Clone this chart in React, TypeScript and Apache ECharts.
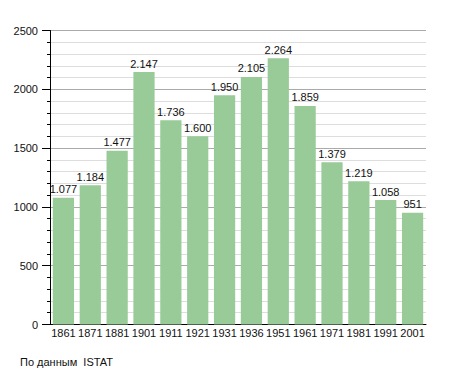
import React, { useEffect, useRef } from "react";
import * as echarts from "echarts";

const years = ["1861", "1871", "1881", "1901", "1911", "1921", "1931", "1936", "1951", "1961", "1971", "1981", "1991", "2001"];
const population = [1077, 1184, 1477, 2147, 1736, 1600, 1950, 2105, 2264, 1859, 1379, 1219, 1058, 951];
const yTicks = [0, 500, 1000, 1500, 2000, 2500];
const sourceNote = "По данным\u00a0 ISTAT";

const fmt = (v: number) => String(v).replace(/\B(?=(\d{3})+(?!\d))/g, ".");

export default function App() {
  const ref = useRef<HTMLDivElement>(null);
  useEffect(() => {
    if (!ref.current) return;
    const chart = echarts.init(ref.current, null, { renderer: "svg" });
    const font = "Liberation Sans, Arial, sans-serif";
    chart.setOption({
      animation: false,
      backgroundColor: "#ffffff",
      textStyle: { fontFamily: font },
      grid: { left: 50, right: 29, top: 30.5, bottom: 48.5, containLabel: false },
      xAxis: {
        type: "category",
        data: years,
        axisLine: { show: true, lineStyle: { color: "#000", width: 1 } },
        axisTick: { show: false },
        axisLabel: { color: "#111", fontSize: 11, margin: 3, interval: 0, fontFamily: font },
        splitLine: { show: false },
      },
      yAxis: {
        type: "value",
        min: yTicks[0],
        max: yTicks[yTicks.length - 1],
        interval: 500,
        axisLine: { show: true, lineStyle: { color: "#000", width: 1 } },
        axisTick: { show: true, length: 8, lineStyle: { color: "#000" } },
        minorTick: { show: true, splitNumber: 5, length: 3, lineStyle: { color: "#000" } },
        axisLabel: {
          color: "#111",
          fontSize: 11,
          margin: 12,
          fontFamily: font,
          formatter: (v: number) => String(v),
        },
        splitLine: { show: true, lineStyle: { color: "#aaaaaa", width: 1 } },
        minorSplitLine: { show: true, lineStyle: { color: "#dddddd", width: 1 } },
      },
      series: [
        {
          type: "bar",
          data: population,
          barCategoryGap: "21%",
          itemStyle: { color: "#98cb98" },
          label: {
            show: true,
            position: "top",
            distance: 3,
            color: "#111",
            fontSize: 11,
            fontFamily: font,
            formatter: (p: any) => fmt(p.value),
          },
        },
      ],
      graphic: [
        {
          type: "text",
          left: 20,
          top: 356,
          style: { text: sourceNote, fill: "#111", font: `11px ${font}` },
        },
      ],
    });
    return () => chart.dispose();
  }, []);
  return <div ref={ref} style={{ position: "absolute", left: 0, top: 0, width: 455, height: 373 }} />;
}
